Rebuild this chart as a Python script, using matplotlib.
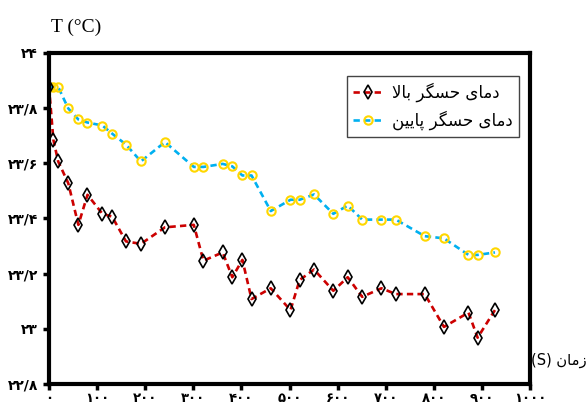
import matplotlib
matplotlib.use('Agg')
from matplotlib import pyplot as plt

# time (s)
t = [0, 9, 19, 40, 61, 80, 111, 131, 160, 191, 241, 301, 321, 361, 381, 402,
     421, 461, 502, 521, 551, 591, 621, 651, 691, 721, 781, 821, 872, 891, 927]
# lower sensor
T_low = [23.877, 23.877, 23.877, 23.799, 23.759, 23.748, 23.737, 23.708, 23.668,
         23.607, 23.677, 23.587, 23.587, 23.598, 23.589, 23.556, 23.556, 23.427,
         23.468, 23.468, 23.487, 23.417, 23.447, 23.396, 23.396, 23.396, 23.336,
         23.328, 23.268, 23.268, 23.277]
# upper sensor
T_up = [23.877, 23.686, 23.607, 23.528, 23.377, 23.486, 23.417, 23.407, 23.317,
        23.308, 23.368, 23.377, 23.247, 23.277, 23.187, 23.250, 23.108, 23.147,
        23.068, 23.177, 23.215, 23.138, 23.187, 23.116, 23.147, 23.126, 23.126,
        23.007, 23.059, 22.968, 23.068]

fa_digits = '۰۱۲۳۴۵۶۷۸۹'
def fa(s):
    return ''.join(fa_digits[int(c)] if c.isdigit() else c for c in s)

xticks = [0, 100, 200, 300, 400, 500, 600, 700, 800, 900, 1000]
yticks = [22.8, 23.0, 23.2, 23.4, 23.6, 23.8, 24.0]
ylabels = ['22/8', '23', '23/2', '23/4', '23/6', '23/8', '24']

# pre-shaped Persian text (visual order, left to right)
lab_up = '\uFEFB\uFE8E\uFE91 \uFEAE\uFB95\uFEB4\uFEA3 \uFEEF\uFE8E\uFEE3\uFEA9'
lab_low = '\uFEE6\uFEF4\uFEF3\uFE8E\uFB58 \uFEAE\uFB95\uFEB4\uFEA3 \uFEEF\uFE8E\uFEE3\uFEA9'
lab_x = '(S) \uFEE5\uFE8E\uFEE3\uFEAF'

fig = plt.figure(figsize=(5.87, 4.07), dpi=100)
ax = fig.add_axes([0.0835, 0.0565, 0.8195, 0.8133])

l2, = ax.plot(t, T_low, color='#00B0F0', lw=1.9, ls=(0, (2.4, 1.6)),
              marker='o', ms=6, mfc='none', mec='#FFD700', mew=1.5)
l1, = ax.plot(t, T_up, color='#CC0000', lw=1.9, ls=(0, (2.4, 1.6)),
              marker='d', ms=7.5, mfc='none', mec='black', mew=1.2)

ax.set_xlim(0, 1000)
ax.set_ylim(22.8, 24.0)
ax.set_xticks(xticks)
ax.set_xticklabels([fa(str(v)) for v in xticks], fontsize=9.5, fontweight='bold',
                   family='DejaVu Sans')
ax.set_yticks(yticks)
ax.set_yticklabels([fa(s) for s in ylabels], fontsize=10, fontweight='bold',
                   family='DejaVu Sans')
for s in ax.spines.values():
    s.set_linewidth(3)
ax.tick_params(axis='x', width=2.5, length=4, direction='out', pad=2)
ax.tick_params(axis='y', width=2.5, length=4, direction='out', pad=4)

fig.text(0.087, 0.934, 'T (°C)', fontsize=14, family='Liberation Serif',
         ha='left', va='center')
fig.text(0.905, 0.1155, lab_x, fontsize=10.5, family='DejaVu Sans',
         ha='left', va='center')

leg = ax.legend([l1, l2], [lab_up, lab_low], loc='upper right',
                bbox_to_anchor=(0.977, 0.930), borderaxespad=0,
                handlelength=1.8, handletextpad=0.5,
                fancybox=False, framealpha=1, edgecolor='#444444',
                prop={'family': 'DejaVu Sans', 'size': 12})
leg.get_frame().set_linewidth(1)

plt.savefig('out.png', dpi=100)
